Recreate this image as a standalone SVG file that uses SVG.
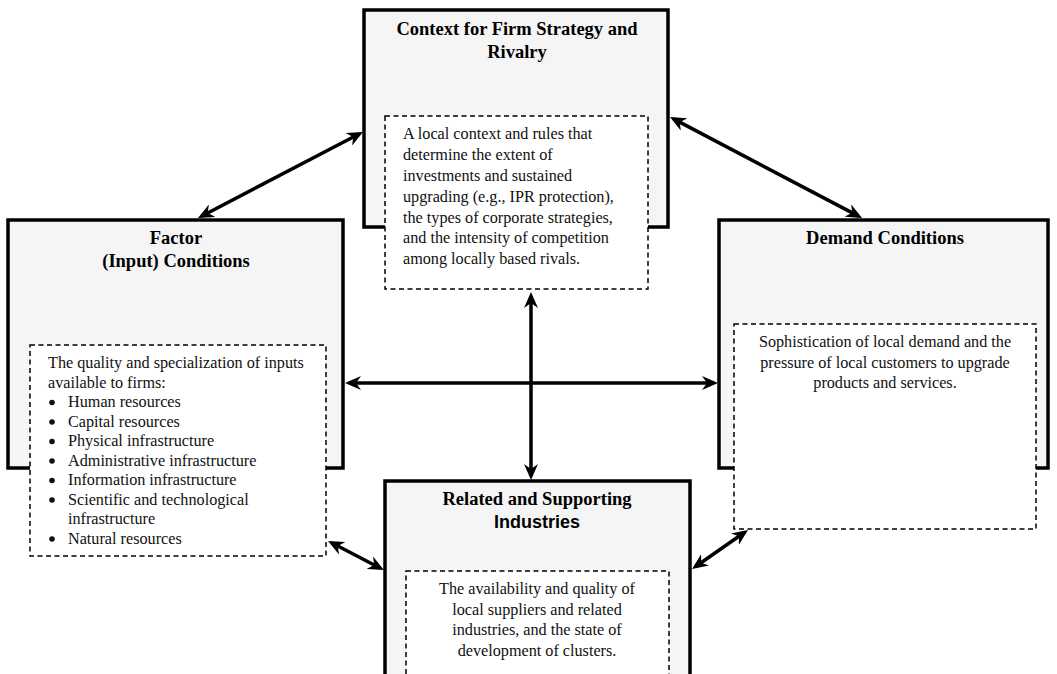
<svg xmlns="http://www.w3.org/2000/svg" width="1057" height="674" viewBox="0 0 1057 674">
<style>
.box{fill:#f5f5f5;stroke:#000;stroke-width:3.5}
.dash{fill:#fff;stroke:#000;stroke-width:1.5;stroke-dasharray:5,3.5}
.title{font-family:"Liberation Serif","Times New Roman",serif;font-weight:bold;font-size:18.5px;fill:#000;text-anchor:middle}
.sans{font-family:"Liberation Sans",Arial,sans-serif;font-weight:bold;font-size:18px;fill:#000;text-anchor:middle}
.body{font-family:"Liberation Serif","Times New Roman",serif;font-size:16.2px;fill:#111}
.mid{text-anchor:middle}
.dot{fill:#111}
.conn{fill:none;stroke:#000;stroke-width:3.5;marker-start:url(#ah);marker-end:url(#ah)}
</style>
<defs>
<marker id="ah" viewBox="0 0 16 14" refX="12" refY="7" markerWidth="16" markerHeight="14" markerUnits="userSpaceOnUse" orient="auto-start-reverse">
<path d="M0,0 L16,7 L0,14 L5,7 Z" fill="#000"/>
</marker>
</defs>
<rect width="1057" height="674" fill="#fff"/>

<g id="context">
<rect class="box" x="364" y="10" width="304" height="217"/>
<text class="title" x="517" y="35">Context for Firm Strategy and</text>
<text class="title" x="517" y="58">Rivalry</text>
<rect class="dash" x="385" y="116" width="263" height="173"/>
<text class="body" x="403" y="139">A local context and rules that</text>
<text class="body" x="403" y="160">determine the extent of</text>
<text class="body" x="403" y="181">investments and sustained</text>
<text class="body" x="403" y="202">upgrading (e.g., IPR protection),</text>
<text class="body" x="403" y="223">the types of corporate strategies,</text>
<text class="body" x="403" y="243">and the intensity of competition</text>
<text class="body" x="403" y="264">among locally based rivals.</text>
</g>

<g id="factor">
<rect class="box" x="8" y="220" width="335" height="248"/>
<text class="title" x="176" y="244">Factor</text>
<text class="title" x="176" y="267">(Input) Conditions</text>
<rect class="dash" x="30" y="345" width="296" height="211"/>
<text class="body" x="48" y="368">The quality and specialization of inputs</text>
<text class="body" x="48" y="387.5">available to firms:</text>
<g class="dot">
<circle cx="52" cy="402.5" r="2.8"/>
<circle cx="52" cy="422" r="2.8"/>
<circle cx="52" cy="441.5" r="2.8"/>
<circle cx="52" cy="461" r="2.8"/>
<circle cx="52" cy="480.5" r="2.8"/>
<circle cx="52" cy="500" r="2.8"/>
<circle cx="52" cy="539" r="2.8"/>
</g>
<g class="body">
<text x="68" y="407">Human resources</text>
<text x="68" y="426.5">Capital resources</text>
<text x="68" y="446">Physical infrastructure</text>
<text x="68" y="465.5">Administrative infrastructure</text>
<text x="68" y="485">Information infrastructure</text>
<text x="68" y="504.5">Scientific and technological</text>
<text x="68" y="524">infrastructure</text>
<text x="68" y="543.5">Natural resources</text>
</g>
</g>

<g id="demand">
<rect class="box" x="719" y="220" width="329" height="248"/>
<text class="title" x="885" y="244">Demand Conditions</text>
<rect class="dash" x="734" y="324" width="302" height="205"/>
<text class="body mid" x="885" y="347">Sophistication of local demand and the</text>
<text class="body mid" x="885" y="367.5">pressure of local customers to upgrade</text>
<text class="body mid" x="885" y="388">products and services.</text>
</g>

<g id="related">
<rect class="box" x="385" y="481" width="305" height="210"/>
<text class="title" x="537" y="505">Related and Supporting</text>
<text class="sans" x="537" y="528">Industries</text>
<rect class="dash" x="406" y="571" width="263" height="120"/>
<text class="body mid" x="537" y="594">The availability and quality of</text>
<text class="body mid" x="537" y="614.7">local suppliers and related</text>
<text class="body mid" x="537" y="635.3">industries, and the state of</text>
<text class="body mid" x="537" y="656">development of clusters.</text>
</g>

<g id="connectors">
<line class="conn" x1="201.5" y1="216.2" x2="359.5" y2="133.8"/>
<line class="conn" x1="673.5" y1="118.9" x2="858.5" y2="216.1"/>
<line class="conn" x1="349" y1="383" x2="714" y2="383"/>
<line class="conn" x1="531" y1="296" x2="531" y2="476"/>
<line class="conn" x1="331.6" y1="542.8" x2="380.4" y2="568.2"/>
<line class="conn" x1="695.3" y1="566.7" x2="744.7" y2="532.3"/>
</g>
</svg>
